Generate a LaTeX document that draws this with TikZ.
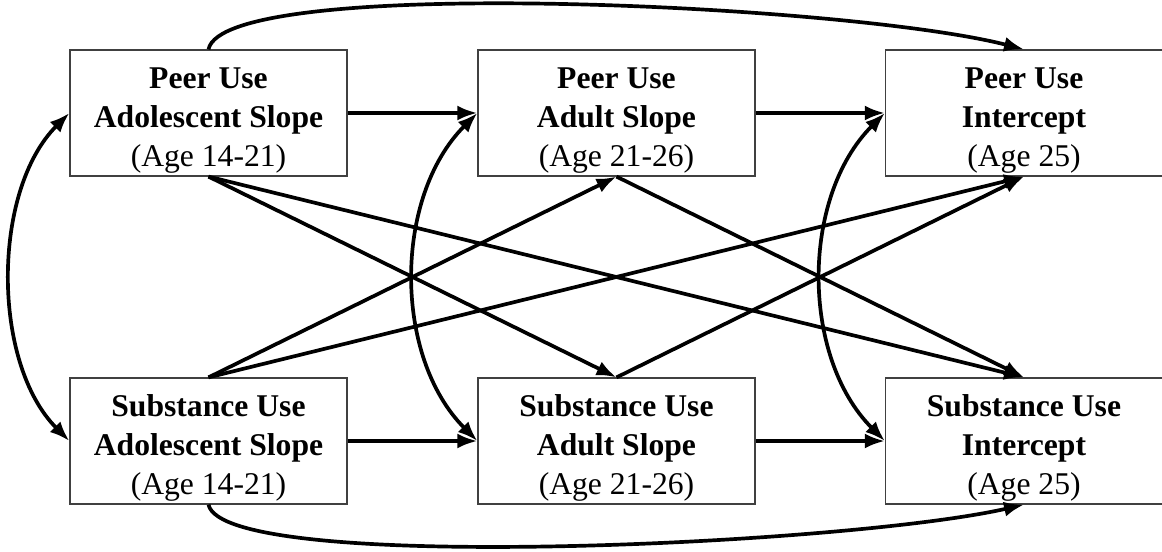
\documentclass[tikz,border=0pt]{standalone}
\usepackage{fontspec}
\setmainfont{Liberation Serif}
\usetikzlibrary{arrows.meta, positioning}

\newcommand{\boxhead}[1]{\rule{0pt}{7mm}\textbf{#1}}

\begin{document}
\begin{tikzpicture}[
    box/.style={draw=black!75, line width=0.7pt, minimum width=5.54cm, minimum height=2.52cm,
                inner sep=0pt, align=center, font=\fontsize{18}{22.2}\selectfont},
    effect/.style={line width=2.1pt, -{Latex[length=4mm, width=3mm]}},
    cov/.style={line width=2.1pt, {Latex[length=4mm, width=3mm]}-{Latex[length=4mm, width=3mm]}}
]
    \useasboundingbox (0,0) rectangle (23.24,11.02);

    % Peer Use row
    \node[box] (peerAdol) at (4.17,8.76) {\boxhead{Peer Use}\\ \textbf{Adolescent Slope}\\ (Age 14-21)};
    \node[box] (peerAdult) at (12.33,8.76) {\boxhead{Peer Use}\\ \textbf{Adult Slope}\\ (Age 21-26)};
    \node[box] (peerInt) at (20.48,8.76) {\boxhead{Peer Use}\\ \textbf{Intercept}\\ (Age 25)};

    % Substance Use row
    \node[box] (subAdol) at (4.17,2.20) {\boxhead{Substance Use}\\ \textbf{Adolescent Slope}\\ (Age 14-21)};
    \node[box] (subAdult) at (12.33,2.20) {\boxhead{Substance Use}\\ \textbf{Adult Slope}\\ (Age 21-26)};
    \node[box] (subInt) at (20.48,2.20) {\boxhead{Substance Use}\\ \textbf{Intercept}\\ (Age 25)};

    % Horizontal paths
    \draw[effect] (peerAdol.east) -- (peerAdult.west);
    \draw[effect] (peerAdult.east) -- (peerInt.west);
    \draw[effect] (subAdol.east) -- (subAdult.west);
    \draw[effect] (subAdult.east) -- (subInt.west);

    % Long arcs over and under
    \draw[effect] (peerAdol.north) .. controls +(0.3,1.5) and +(-3.5,0.9) .. (peerInt.north);
    \draw[effect] (subAdol.south) .. controls +(0.3,-1.4) and +(-3.5,-0.8) .. (subInt.south);

    % Covariances
    \draw[cov] (peerAdol.west) to[out=225, in=135, looseness=0.86] (subAdol.west);
    \draw[cov] (peerAdult.west) to[out=225, in=135, looseness=0.93] (subAdult.west);
    \draw[cov] (peerInt.west) to[out=225, in=135, looseness=0.93] (subInt.west);

    % Cross paths
    \draw[effect] (peerAdol.south) -- (subAdult.north);
    \draw[effect] (peerAdol.south) -- (subInt.north);
    \draw[effect] (subAdol.north) -- (peerAdult.south);
    \draw[effect] (subAdol.north) -- (peerInt.south);
    \draw[effect] (peerAdult.south) -- (subInt.north);
    \draw[effect] (subAdult.north) -- (peerInt.south);
\end{tikzpicture}
\end{document}
